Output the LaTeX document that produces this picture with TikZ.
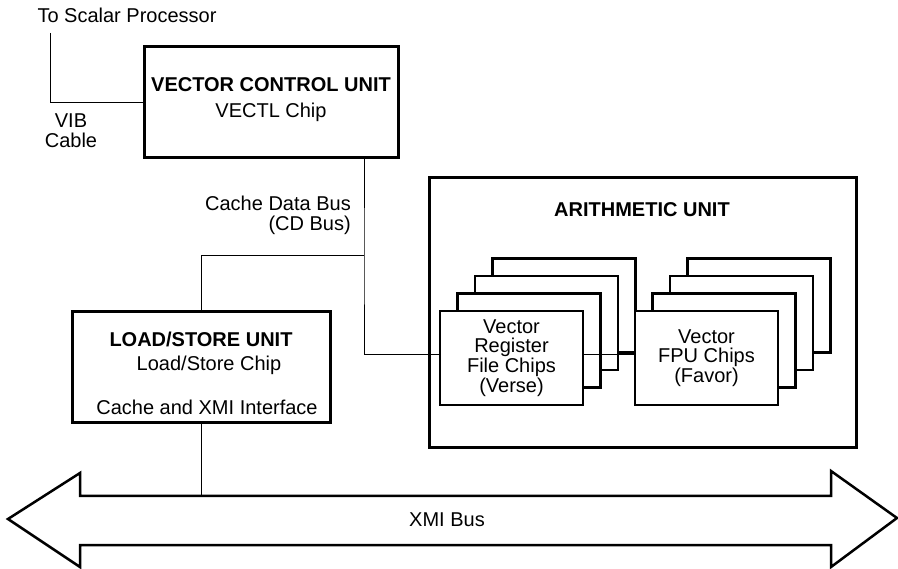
\documentclass[tikz,border=0pt]{standalone}
\usepackage{fontspec}
\setmainfont{Liberation Sans}
\begin{document}
\begin{tikzpicture}[x=1pt,y=-1pt,
  every node/.style={font=\fontsize{20}{19.8}\selectfont, inner sep=0pt},
  unitbox/.style={draw, line width=3pt, minimum width=#1},
  chipbox/.style={draw, fill=white, line width=2.5pt, minimum width=143pt, minimum height=94pt, align=center},
  thinline/.style={line width=1pt},
  busline/.style={line width=2.5pt, line join=miter},
  lbl/.style={align=center},
  bold/.style={font=\fontsize{20}{19.8}\selectfont\bfseries}
]
\useasboundingbox (0,0) rectangle (898,569);

% Vector control unit
\node[unitbox=254pt, minimum height=111pt] (vcu) at (271.5,102) {};
\node[bold] (vcut) at (271,85) {VECTOR CONTROL UNIT};
\node (vcus) at (271,112) {VECTL Chip};

% Load/store unit
\node[unitbox=258pt, minimum height=111pt] (lsu) at (201.5,367.5) {};
\node[bold] (lsut) at (201,339) {LOAD/STORE UNIT};
\node (lsus) at (209,365) {Load/Store Chip};
\node (lsuc) at (207,407) {Cache and XMI Interface};

% Arithmetic unit
\node[unitbox=427pt, minimum height=270pt] (au) at (642.5,313) {};
\node[bold] (aut) at (642,210) {ARITHMETIC UNIT};

% Verse chip stack
\node[chipbox] (v3) at (564,305.5) {};
\node[chipbox] (v2) at (546.5,323) {};
\node[chipbox] (v1) at (529,340.5) {};
\node[chipbox] (verse) at (511.5,358) {Vector\\Register\\File Chips\\(Verse)};

% Favor chip stack
\node[chipbox] (f3) at (759,305.5) {};
\node[chipbox] (f2) at (741.5,323) {};
\node[chipbox] (f1) at (724,340.5) {};
\node[chipbox] (favor) at (706.5,358) {Vector\\FPU Chips\\(Favor)};

\draw[thinline] ([yshift=3pt]verse.east) -- ([yshift=3pt]favor.west);

% Labels
\node (tsp) at (127,15) {To Scalar Processor};
\node[lbl] (vib) at (71,131) {VIB\\Cable};
\node[anchor=east, align=right] (cdb) at (351,215.5) {Cache Data Bus\\(CD Bus)};

% VIB cable
\coordinate (spend) at (50,33);
\coordinate (vibc) at (50,103);
\draw[thinline] (spend) -- (vibc) -- (vcu.west |- vibc);

% CD bus
\coordinate (j1) at (364,256);
\coordinate (j2) at (364,355);
\draw[thinline] (vcu.south -| j1) -- (j1) -- (j2) -- (verse.west |- j2);
\draw[thinline] (j1) -| (lsu.north);

% XMI bus
\coordinate (bustop) at (201.5,496);
\draw[busline] (8,519) -- (80,473) -- (80,496) -- (831,496) -- (831,471) -- (897,518)
  -- (831,567) -- (831,545) -- (80,545) -- (80,567) -- cycle;
\node (xmi) at (447,520) {XMI Bus};
\draw[thinline] (lsu.south) -- (bustop);
\end{tikzpicture}
\end{document}
